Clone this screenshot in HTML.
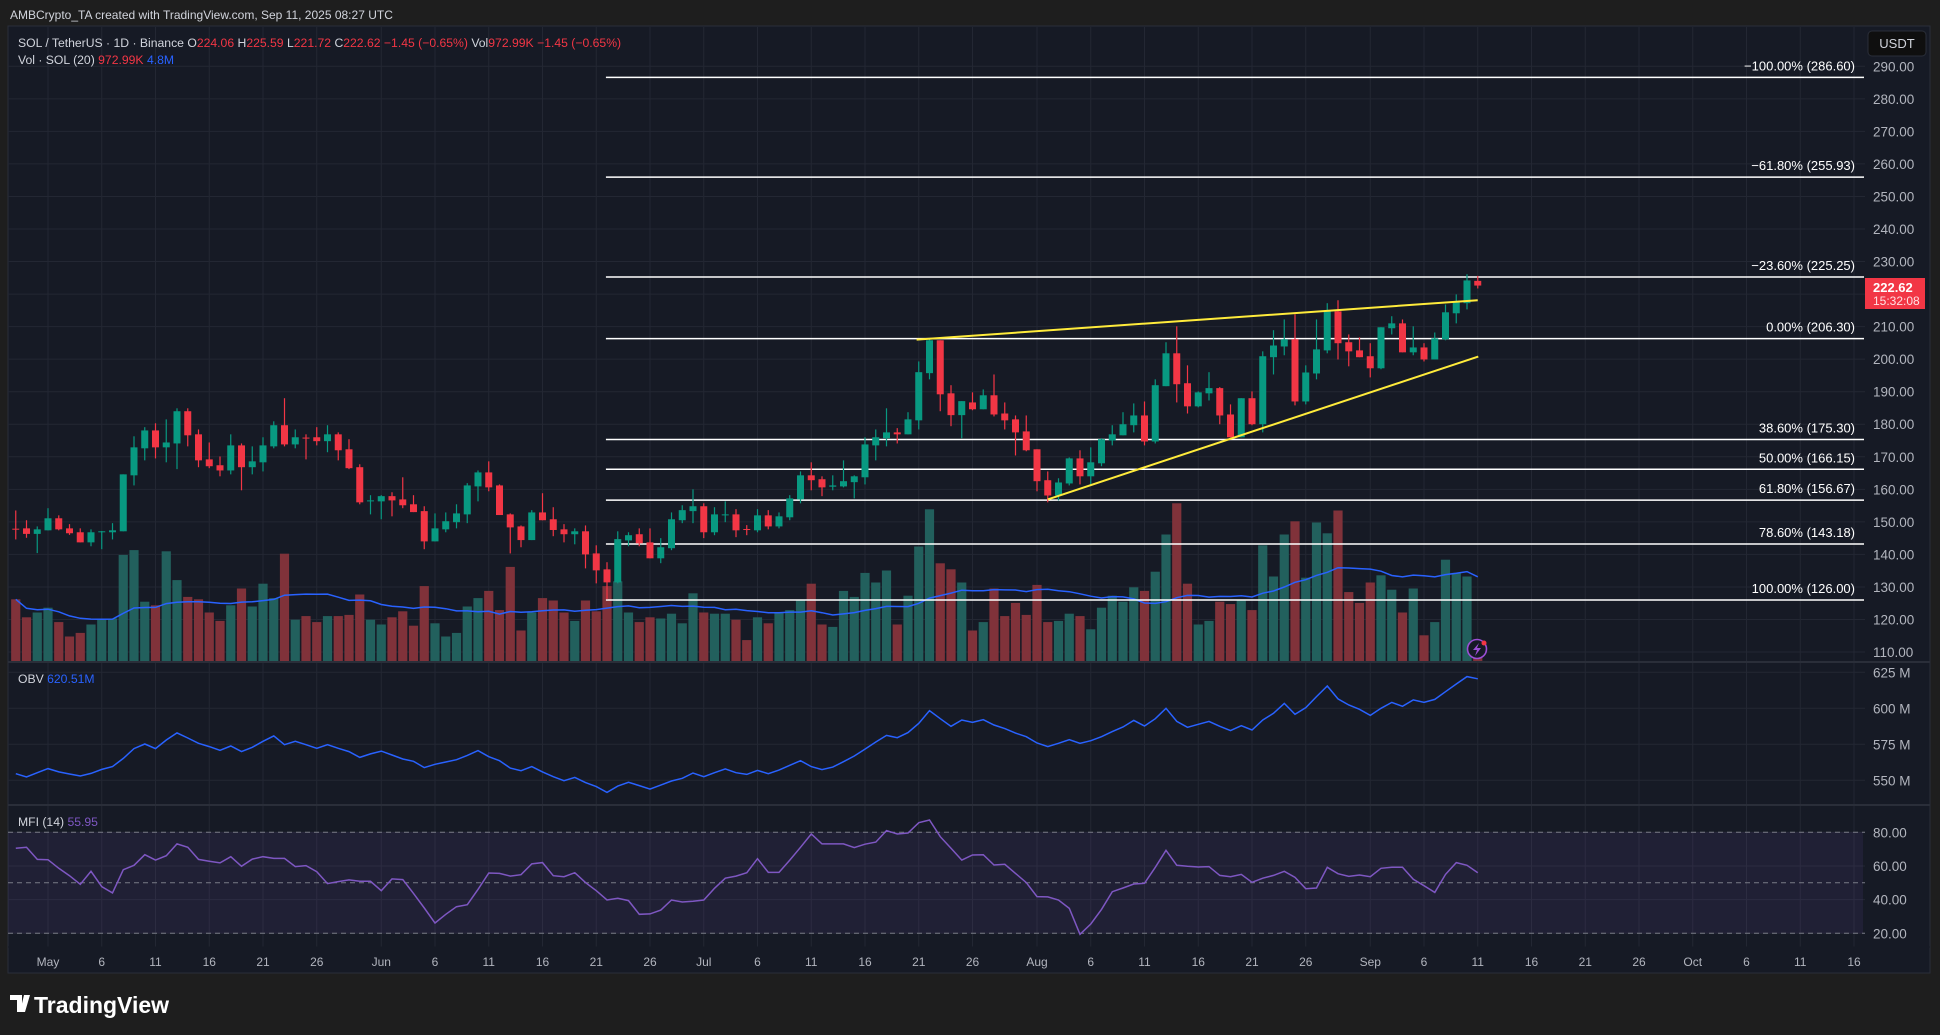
<!DOCTYPE html>
<html><head><meta charset="utf-8">
<style>
html,body{margin:0;padding:0;background:#1e1e1e;width:1940px;height:1035px;overflow:hidden;font-family:"Liberation Sans",sans-serif;}
svg{display:block}
text{font-family:"Liberation Sans",sans-serif;}
</style></head>
<body>
<svg id="chart" width="1940" height="1035" viewBox="0 0 1940 1035" xmlns="http://www.w3.org/2000/svg">
  <rect x="0" y="0" width="1940" height="1035" fill="#1e1e1e"/>
  <text x="10" y="19" font-size="12" fill="#d1d4dc">AMBCrypto_TA created with TradingView.com, Sep 11, 2025 08:27 UTC</text>
  <rect x="8" y="26" width="1922" height="947" fill="#161a25" stroke="#2a2e39" stroke-width="1"/>
  <rect x="1865" y="27" width="64" height="920" fill="#161a25"/>
  <g id="grid"></g>
  <rect x="8" y="832.3" width="1855" height="101" fill="#7e57c2" fill-opacity="0.1"/>
  <g id="volume"></g>
  <g id="fib"></g>
  <g id="candles"></g>
  <g id="trend"></g>
  <g id="ind"></g>
  <g id="axes"></g>
  <line x1="8" y1="662" x2="1930" y2="662" stroke="#2a2e39" stroke-width="2"/>
  <line x1="8" y1="805" x2="1930" y2="805" stroke="#2a2e39" stroke-width="2"/>
  <line x1="8" y1="947" x2="1930" y2="947" stroke="#161a25" stroke-width="1"/>
  <g font-size="12.2">
    <text x="18" y="47" fill="#d1d4dc">SOL / TetherUS · 1D · Binance <tspan fill="#d1d4dc">O</tspan><tspan fill="#f23645">224.06</tspan> <tspan fill="#d1d4dc">H</tspan><tspan fill="#f23645">225.59</tspan> <tspan fill="#d1d4dc">L</tspan><tspan fill="#f23645">221.72</tspan> <tspan fill="#d1d4dc">C</tspan><tspan fill="#f23645">222.62</tspan> <tspan fill="#f23645">−1.45 (−0.65%)</tspan> <tspan fill="#d1d4dc">Vol</tspan><tspan fill="#f23645">972.99K</tspan> <tspan fill="#f23645">−1.45 (−0.65%)</tspan></text>
    <text x="18" y="64" fill="#d1d4dc">Vol · SOL (20) <tspan fill="#f23645">972.99K</tspan> <tspan fill="#2962ff">4.8M</tspan></text>
  </g>
  <text x="18" y="683" font-size="12.2" fill="#d1d4dc">OBV <tspan fill="#2962ff">620.51M</tspan></text>
  <text x="18" y="826" font-size="12.2" fill="#d1d4dc">MFI (14) <tspan fill="#7e57c2">55.95</tspan></text>
  <g>
    <rect x="1868" y="31" width="58" height="25" rx="4" fill="#0f0f0f" stroke="#2a2e39"/>
    <text x="1897" y="48" font-size="13" fill="#d1d4dc" text-anchor="middle">USDT</text>
  </g>
  <g>
    <rect x="1865" y="278" width="60" height="31" fill="#f23645"/>
    <text x="1873" y="292" font-size="13" fill="#ffffff" font-weight="bold">222.62</text>
    <text x="1873" y="305" font-size="12" fill="#ffe0e3">15:32:08</text>
  </g>
  <g>
    <circle cx="1477" cy="649" r="9.5" fill="#161a25" stroke="#9c4fd6" stroke-width="1.6"/>
    <path d="M1479 643 L1473 650 L1477 650 L1475 656 L1481 648 L1477 648 Z" fill="#9c4fd6"/>
    <circle cx="1484" cy="643" r="2.5" fill="#f23645"/>
  </g>
  <g>
    <path d="M10 995 h12 v17 h-5 v-12 h-7 z M24 995 h6 l-5 17 h-5 z" fill="#ffffff"/>
    <text x="34" y="1013" font-size="23" font-weight="bold" fill="#ffffff">TradingView</text>
  </g>
</svg>
<script>
// ---- data (one entry per daily candle, starting Apr 28, 2025) ----
const startDay = -3; // days relative to May 1
const opens = [147.9,148.0,146.3,147.4,151.1,148.0,146.8,143.7,146.9,146.8,
147.1,164.3,172.6,178.1,172.9,174.1,184.0,176.9,169.2,167.4,
165.8,173.5,166.8,168.3,173.2,179.7,173.8,175.9,176.0,174.8,
176.9,172.3,166.8,156.3,156.3,157.9,156.9,155.4,153.3,144.0,
147.7,149.9,152.3,160.9,165.2,161.2,152.3,148.6,144.4,152.9,
150.8,147.7,146.2,147.1,140.3,135.4,131.4,144.3,146.2,143.7,
138.8,141.9,150.5,153.3,154.8,146.8,152.1,152.3,147.8,147.4,
152.0,148.6,151.4,156.9,164.3,163.1,160.8,160.9,162.2,163.7,
173.5,175.7,177.5,176.9,181.2,195.7,205.8,189.5,182.8,186.7,
184.6,188.9,183.3,181.5,177.8,172.3,162.8,158.1,161.8,169.5,
164.0,168.0,175.0,176.6,179.7,182.7,174.7,191.7,201.8,192.6,
185.5,189.5,191.1,183.0,176.0,188.0,180.0,200.6,203.9,206.1,
187.0,195.6,202.7,214.7,205.2,202.7,200.9,197.2,209.5,211.0,
202.1,203.6,199.9,206.1,214.1,217.2,224.06];
const closes = [147.8,146.3,147.7,151.1,147.7,146.5,143.7,146.8,147.1,147.4,
164.6,172.9,178.1,172.9,174.4,184.0,176.6,168.9,167.1,165.8,
173.5,166.8,168.6,173.5,179.7,173.8,176.0,175.7,174.8,176.9,
172.0,166.5,156.0,156.6,157.9,156.6,155.1,153.0,144.0,148.0,
150.2,152.6,161.2,165.2,160.6,152.1,148.3,144.4,152.9,150.5,
147.5,146.2,147.1,140.0,135.1,131.4,144.7,145.9,143.4,138.8,
142.2,150.8,153.6,154.8,146.8,152.3,152.3,147.4,147.6,152.0,
148.6,151.7,157.2,164.3,162.8,160.6,161.2,162.5,164.0,173.8,
176.0,177.5,176.9,181.5,196.0,205.8,189.2,182.8,187.1,184.6,
188.9,183.0,181.2,177.5,172.0,162.5,158.1,162.1,169.5,164.0,
168.3,175.4,176.9,180.0,182.7,174.7,192.0,201.8,192.3,185.5,
189.8,191.1,182.7,176.0,188.0,180.0,200.9,204.2,206.1,187.0,
195.9,203.0,214.7,204.9,202.4,200.6,197.2,209.8,211.0,202.1,
203.6,199.9,206.4,214.4,217.5,224.2,222.62];
const highs = [153.5,150.5,148.6,154.2,152.0,149.3,148.0,147.7,147.2,149.6,
164.6,176.3,179.1,180.3,181.5,184.9,184.9,178.4,174.4,170.1,
176.9,174.1,173.2,176.0,180.9,188.0,178.4,176.9,179.1,179.7,
177.5,175.4,167.7,158.2,158.2,159.1,163.7,158.2,154.8,152.6,
152.9,155.4,161.9,165.8,168.6,161.5,152.6,148.9,153.6,158.8,
154.5,149.3,148.0,148.9,142.8,137.6,147.1,146.8,148.0,148.0,
145.0,152.9,155.1,160.0,155.7,154.5,156.3,153.9,149.0,153.9,
153.6,152.9,158.2,165.5,168.3,164.0,164.3,168.9,164.3,176.0,
178.4,184.9,178.8,183.7,199.3,206.4,205.8,192.0,187.1,189.8,
190.7,195.3,186.7,182.7,182.7,172.3,165.5,163.4,169.8,172.0,
172.9,175.7,179.7,183.7,186.4,187.0,193.8,205.2,210.1,198.1,
190.1,196.0,191.4,186.1,188.0,190.1,202.4,208.9,212.2,213.8,
198.1,212.2,217.2,218.1,207.6,206.7,204.9,209.8,213.2,212.2,
210.1,204.9,208.2,216.8,219.9,226.1,225.59];
const lows = [144.6,145.1,140.4,147.4,147.4,146.0,143.7,142.5,141.6,144.6,
147.1,161.2,168.9,169.5,168.3,166.2,173.2,166.8,166.5,164.0,
164.6,159.7,164.6,165.5,172.6,173.2,172.6,169.2,173.5,171.4,
168.9,166.2,155.4,152.3,150.8,151.7,154.2,153.0,141.6,144.0,
146.8,148.0,149.6,156.3,159.4,152.1,140.3,142.2,144.4,150.5,
145.6,143.7,143.1,135.7,131.1,126.2,131.1,142.5,142.5,138.8,
137.3,141.3,149.6,149.6,145.0,145.9,149.9,145.3,145.9,146.8,
147.7,148.0,150.5,155.7,159.7,157.9,159.7,160.6,157.2,161.5,
168.9,173.2,174.1,176.9,178.4,193.8,184.0,179.4,175.7,184.3,
184.6,182.4,178.4,170.4,171.7,159.4,156.0,156.6,161.2,161.5,
161.5,167.1,173.5,176.6,177.5,173.5,174.1,191.7,186.7,183.3,
185.2,187.3,180.0,176.0,176.0,179.7,177.5,195.3,201.2,185.8,
186.1,193.8,201.8,199.9,197.8,200.6,194.4,196.9,207.6,202.1,
201.2,199.3,199.9,205.8,211.0,215.3,221.72];
const volumes = [5.2,3.7,4.1,4.5,3.3,2.1,2.4,3.1,3.5,3.6,
8.9,9.3,5.0,4.7,9.2,6.8,5.4,5.2,4.1,3.4,
4.7,6.1,4.6,6.5,5.3,9.0,3.5,3.8,3.3,3.8,
3.8,3.9,5.6,3.5,3.1,3.7,4.2,3.0,6.3,3.2,
2.1,2.4,4.6,5.3,5.9,4.3,7.9,2.6,4.1,5.3,
5.1,4.1,3.4,5.1,4.2,6.3,6.7,4.1,3.3,3.7,
3.6,4.0,3.2,5.7,4.1,4.0,4.0,3.5,1.8,3.7,
3.2,4.1,4.3,5.1,6.5,3.1,2.9,5.9,5.4,7.4,
6.6,7.6,3.1,5.5,9.6,12.7,8.2,7.7,6.6,2.6,
3.3,6.1,3.8,4.9,3.9,6.4,3.3,3.4,4.0,3.8,
2.7,4.5,5.5,5.0,6.2,5.9,7.5,10.6,13.2,6.5,
3.1,3.4,5.0,4.8,5.1,4.3,9.7,7.1,10.6,11.7,
7.0,11.6,10.7,12.6,5.8,4.9,6.6,7.2,6.0,4.1,
6.1,2.2,3.3,8.5,7.4,7.1,1.0];
const obvValues = [554.6,552.3,555.3,558.1,555.8,554.4,553.0,554.8,557.6,559.5,
565.2,572.0,575.2,572.0,578.0,582.9,579.4,575.7,573.4,570.8,
573.8,569.9,572.9,577.1,580.8,574.7,577.1,574.7,572.2,574.7,
572.2,569.9,565.9,568.3,570.3,567.6,564.8,563.2,558.8,561.1,
562.7,564.3,567.3,570.6,566.4,563.6,558.5,556.7,559.5,555.8,
552.5,549.7,552.0,548.4,545.6,541.6,546.0,548.6,546.3,543.9,
546.7,549.5,551.4,555.1,552.5,555.3,557.9,555.3,554.1,556.9,
554.6,557.1,560.4,563.6,559.5,557.4,559.2,562.9,566.9,571.7,
576.6,581.2,579.6,583.1,589.6,598.4,592.8,587.5,591.9,590.3,
592.1,588.4,585.9,582.8,580.3,575.9,573.4,575.7,578.2,575.7,
577.5,580.3,583.8,587.0,591.6,587.7,592.8,600.0,590.9,586.8,
588.9,590.9,587.5,584.5,587.9,584.9,591.9,596.5,603.4,595.8,
600.4,608.1,615.5,606.5,602.3,599.3,595.1,600.0,604.1,601.4,
605.8,604.1,606.2,611.5,616.9,622.0,620.51];
const mfiValues = [70.5,71.1,63.9,63.7,58.6,54.2,49.1,56.8,47.7,44.0,
57.8,60.4,66.7,63.5,66.1,73.1,71.1,63.9,62.8,61.8,
65.5,59.8,64.1,65.5,64.5,64.5,59.6,60.2,56.6,49.5,
50.7,51.7,50.9,50.9,45.3,52.3,51.9,43.7,35.0,26.1,
31.3,35.8,37.0,46.1,55.8,55.6,54.0,54.8,61.2,62.0,
54.2,53.6,56.0,50.1,45.3,39.8,40.8,39.4,31.3,31.5,
33.8,39.8,38.6,39.0,39.8,46.7,52.7,54.0,56.0,64.3,
56.2,56.2,63.5,71.1,79.0,73.1,73.1,73.1,70.9,72.9,
74.2,81.0,79.0,79.6,85.7,87.3,77.4,70.5,63.5,66.5,
66.7,60.6,61.0,55.6,50.1,41.8,41.6,39.8,34.8,19.4,
25.5,34.2,44.7,46.9,49.3,49.7,59.2,69.3,60.4,59.8,
59.4,59.6,54.4,53.6,55.0,50.3,52.7,54.4,56.8,53.2,
46.5,46.9,59.2,55.4,53.8,54.6,53.6,58.6,59.2,59.2,
52.1,48.3,44.3,55.0,62.0,60.4,55.95];
const fibLevels = [286.60,255.93,225.25,206.30,175.30,166.15,156.67,143.18,126.00];
const fibLabels = ["−100.00% (286.60)","−61.80% (255.93)","−23.60% (225.25)","0.00% (206.30)","38.60% (175.30)","50.00% (166.15)","61.80% (156.67)","78.60% (143.18)","100.00% (126.00)"];
const trendUpperDays = [80.8,133.0];
const trendUpperPrices = [206.0,218.1];
const trendLowerDays = [93.0,133.05];
const trendLowerPrices = [156.9,200.8];
const fibStartDay = 51.9;
const priceTicks = [290,280,270,260,250,240,230,220,210,200,190,180,170,160,150,140,130,120,110];
const obvTicks = [625,600,575,550];
const mfiTicks = [80,60,40,20];
const timeTickDays = [0,5,10,15,20,25,31,36,41,46,51,56,61,66,71,76,81,86,92,97,102,107,112,117,123,128,133,138,143,148,153,158,163,168];
const timeTickLabels = ["May","6","11","16","21","26","Jun","6","11","16","21","26","Jul","6","11","16","21","26","Aug","6","11","16","21","26","Sep","6","11","16","21","26","Oct","6","11","16"];
const volMaPeriod = 20;

// ---- axes ----
const xDay = d => 48 + d * 10.75;
const xIdx = i => xDay(startDay + i);
const yP = p => 66.3 + (290 - p) * 3.254;
const yV = v => 661.7 - v * 12;
const yO = v => 672.3 + (625 - v) * 1.44;
const yM = v => 832.3 + (80 - v) * 1.683;
const NS = "http://www.w3.org/2000/svg";
function mk(parent, tag, attrs){ const e = document.createElementNS(NS, tag); for (const k in attrs) e.setAttribute(k, attrs[k]); document.getElementById(parent).appendChild(e); return e; }

priceTicks.forEach(p => {
  const g = mk('grid','line',{x1:8,x2:1865,y1:yP(p),y2:yP(p),stroke:'#232733','stroke-width':1});
  
  
  const t = mk('axes','text',{x:1873,y:yP(p)+5,'font-size':13.5,fill:'#b2b5be'});
  
  
  t.textContent = p.toFixed(2);
});
obvTicks.forEach(v => {
  const g = mk('grid','line',{x1:8,x2:1865,y1:yO(v),y2:yO(v),stroke:'#232733','stroke-width':1});
  
  
  const t = mk('axes','text',{x:1873,y:yO(v)+5,'font-size':13.5,fill:'#b2b5be'});
  
  
  t.textContent = v + ' M';
});
mfiTicks.forEach(v => {
  const g = mk('grid','line',{x1:8,x2:1865,y1:yM(v),y2:yM(v),stroke:'#232733','stroke-width':1});
  
  
  const t = mk('axes','text',{x:1873,y:yM(v)+5,'font-size':13.5,fill:'#b2b5be'});
  
  
  t.textContent = v.toFixed(2);
});
[80,50,20].forEach(v => {
  const g = mk('ind','line',{x1:8,x2:1865,y1:yM(v),y2:yM(v),stroke:'#787b86','stroke-width':1,'stroke-dasharray':'5,4'});
  
  
});
timeTickDays.forEach((d, k) => {
  const g = mk('grid','line',{x1:xDay(d),x2:xDay(d),y1:27,y2:947,stroke:'#232733','stroke-width':1});
  
  
  const t = mk('axes','text',{x:xDay(d),y:966,'font-size':12,fill:'#b2b5be','text-anchor':'middle'});
  
  
  t.textContent = timeTickLabels[k];
});

volumes.forEach((v, i) => {
  const up = closes[i] >= opens[i];
  const r = mk('volume','rect',{x:xIdx(i)-4.6,y:yV(v),width:9.2,height:661.7-yV(v),fill:up?'#22605d':'#80323a'});
  
  
});
let maPts = [];
volumes.forEach((v, i) => {
  const s = volumes.slice(Math.max(0, i - volMaPeriod + 1), i + 1);
  const m = s.reduce((a, b) => a + b, 0) / s.length;
  maPts.push(xIdx(i).toFixed(1) + ',' + yV(m).toFixed(1));
});
const ma = mk('volume','polyline',{points:maPts.join(' '),fill:'none',stroke:'#2962ff','stroke-width':1.5});



fibLevels.forEach((p, k) => {
  const l = mk('fib','line',{x1:xDay(fibStartDay),x2:1864,y1:yP(p),y2:yP(p),stroke:'#ffffff','stroke-width':1.5});
  
  
  const t = mk('fib','text',{x:1855,y:yP(p)-7,'font-size':13,fill:'#ffffff','text-anchor':'end'});
  
  
  t.textContent = fibLabels[k];
});

opens.forEach((o, i) => {
  const c = closes[i], up = c >= o, col = up ? '#089981' : '#f23645', x = xIdx(i);
  const w = mk('candles','line',{x1:x,x2:x,y1:yP(highs[i]),y2:yP(lows[i]),stroke:col,'stroke-width':1.2});
  
  
  const top = yP(Math.max(o, c)), bot = yP(Math.min(o, c));
  const b = mk('candles','rect',{x:x-3.5,y:top,width:7,height:Math.max(1,bot-top),fill:col});
  
  
});

const tu = mk('trend','line',{x1:xDay(trendUpperDays[0]),y1:yP(trendUpperPrices[0]),x2:xDay(trendUpperDays[1]),y2:yP(trendUpperPrices[1]),stroke:'#ffeb3b','stroke-width':2});


const tl = mk('trend','line',{x1:xDay(trendLowerDays[0]),y1:yP(trendLowerPrices[0]),x2:xDay(trendLowerDays[1]),y2:yP(trendLowerPrices[1]),stroke:'#ffeb3b','stroke-width':2});



const obvPts = obvValues.map((v, i) => xIdx(i).toFixed(1) + ',' + yO(v).toFixed(1)).join(' ');
const ob = mk('ind','polyline',{points:obvPts,fill:'none',stroke:'#2962ff','stroke-width':1.5});


const mfiPts = mfiValues.map((v, i) => xIdx(i).toFixed(1) + ',' + yM(v).toFixed(1)).join(' ');
const mf = mk('ind','polyline',{points:mfiPts,fill:'none',stroke:'#7e57c2','stroke-width':1.5});


</script>
</body></html>
